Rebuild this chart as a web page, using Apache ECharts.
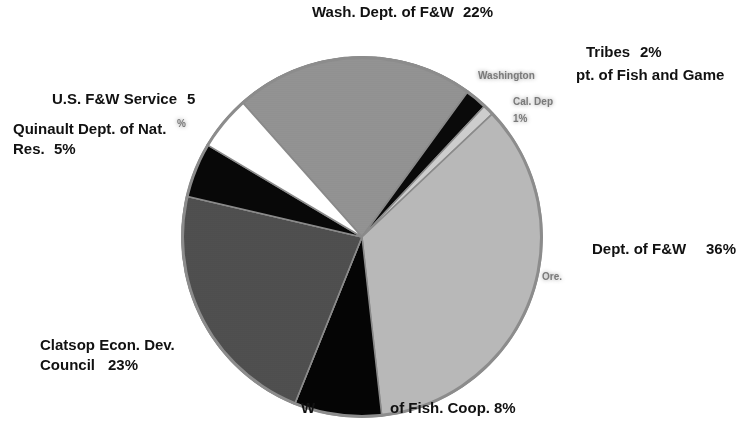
<!DOCTYPE html>
<html>
<head>
<meta charset="utf-8">
<script src="https://cdn.jsdelivr.net/npm/echarts@6/dist/echarts.min.js"></script>
<style>
  html, body { margin: 0; padding: 0; background: #fff; }
  #chart { width: 736px; height: 422px; }
</style>
</head>
<body>
<div id="chart"></div>
<script>
// slices, clockwise from the Wash. Dept. of F&W wedge
const agencies = [
  "Wash. Dept. of F&W",
  "Washington Tribes",
  "Cal. Dept. of Fish and Game",
  "Ore. Dept. of F&W",
  "Wash. Dept. of Fish. Coop.",
  "Clatsop Econ. Dev. Council",
  "Quinault Dept. of Nat. Res.",
  "U.S. F&W Service"
];
const shares = [22, 2, 1, 36, 8, 23, 5, 5];
const fills = ["#9a9a9a", "#0a0a0a", "#cdcdcd", "#b8b8b8", "#050505", "#555555", "#080808", "#ffffff"];

const chart = echarts.init(document.getElementById("chart"));

const font = "bold 15px 'Liberation Sans', Arial, sans-serif";
const smallFont = "bold 10px 'Liberation Sans', Arial, sans-serif";

function label(text, x, y) {
  return { type: "text", z: 100, left: x, top: y, style: { text: text, font: font, fill: "#111" } };
}
function blurred(text, x, y) {
  return {
    type: "text", z: 100, left: x, top: y,
    style: { text: text, font: smallFont, fill: "#7a7a7a", textShadowColor: "#999", textShadowBlur: 4 }
  };
}

function sliceStyle(i) {
  const style = { color: fills[i], borderColor: "#8a8a8a", borderWidth: 1.5 };
  if (i === 0 || i === 5) {
    style.decal = {
      symbol: "circle", symbolSize: 0.6, dashArrayX: [2, 0], dashArrayY: [2, 0],
      color: i === 0 ? "rgba(50,50,50,0.3)" : "rgba(20,20,20,0.4)"
    };
  }
  return style;
}

chart.setOption({
  backgroundColor: "#fff",
  animation: false,
  series: [
    {
      type: "pie",
      center: [362, 237],
      radius: 180,
      startAngle: 131.6,
      clockwise: true,
      label: { show: false },
      labelLine: { show: false },
      emphasis: { disabled: true },
      data: agencies.map((name, i) => ({ name: name, value: shares[i], itemStyle: sliceStyle(i) }))
    },
    {
      // outer rim of the disc
      type: "pie",
      center: [362, 237],
      radius: [178, 181],
      silent: true,
      label: { show: false },
      labelLine: { show: false },
      itemStyle: { color: "#8c8c8c" },
      data: [{ value: 1 }]
    }
  ],
  graphic: [
    label("Wash. Dept. of F&W", 312, 5),
    label("22%", 463, 5),
    label("Tribes", 586, 45),
    label("2%", 640, 45),
    label("pt. of Fish and Game", 576, 68),
    blurred("Washington", 478, 71),
    blurred("Cal. Dep", 513, 97),
    blurred("1%", 513, 114),
    label("U.S. F&W Service", 52, 92),
    label("5", 187, 92),
    blurred("%", 177, 119),
    label("Quinault Dept. of Nat.", 13, 122),
    label("Res.", 13, 142),
    label("5%", 54, 142),
    label("Dept. of F&W", 592, 242),
    label("36%", 706, 242),
    blurred("Ore.", 542, 272),
    label("Clatsop Econ. Dev.", 40, 338),
    label("Council", 40, 358),
    label("23%", 108, 358),
    label("W", 301, 401),
    label("of Fish. Coop.", 390, 401),
    label("8%", 494, 401)
  ]
});
</script>
</body>
</html>
